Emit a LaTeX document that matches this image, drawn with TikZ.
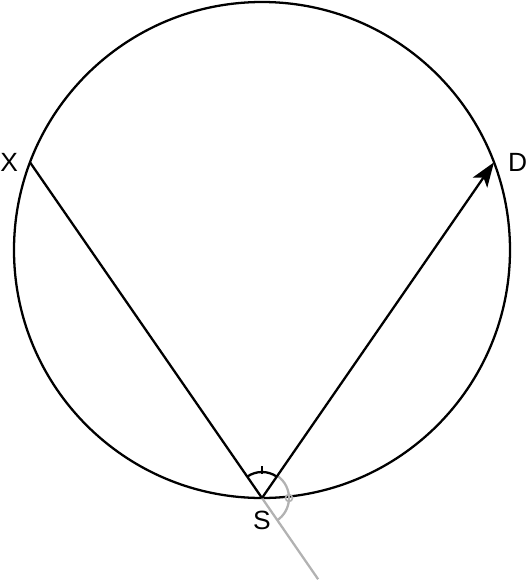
\documentclass[tikz,border=0pt]{standalone}
\usepackage{fontspec}
\setmainfont{Liberation Sans}
\usetikzlibrary{positioning,arrows.meta,calc}
\tikzset{
	x=0.02cm, y=0.02cm, % one unit is one pixel of the sketch
	every picture/.style={line width=1.3pt}, % sets the thickness of every line
	point/.style={inner sep=0pt, font=\fontsize{15}{18}\selectfont}, % sets the look of the point letters
	ray/.style={gray!60}, % the grey extension and its angle
}

\begin{document}
\begin{tikzpicture}[>={Stealth[length=14pt,width=10pt,inset=3.5pt]}]
	\useasboundingbox (-262,-333) rectangle (265,250);
	\coordinate (O) at (0,0);
	\coordinate (X) at (159.3:248);
	\coordinate (D) at (20.7:248);
	\coordinate (S) at (-90:248);
	\coordinate (E) at ($(S)!-0.242!(X)$);

	\draw (O) circle (248);

	\draw[ray] (S) -- (E);
	\draw[ray] ($(S)+(55.3:27)$) arc[start angle=55.3, end angle=-55.3, radius=27];
	\draw[ray,line width=0.9pt] ($(S)+(27,0)$) circle (3.5);

	\draw (X) -- (S);
	\draw[->] (S) -- (D);
	\draw ($(S)+(55.3:26)$) arc[start angle=55.3, end angle=124.7, radius=26];
	\draw ($(S)+(0,24)$) -- ($(S)+(0,32)$);

	\node[point,left=0.22cm of X] (lX) {X};
	\node[point,right=0.26cm of D] (lD) {D};
	\node[point,below=0.24cm of S] (lS) {S};
\end{tikzpicture}
\end{document}
